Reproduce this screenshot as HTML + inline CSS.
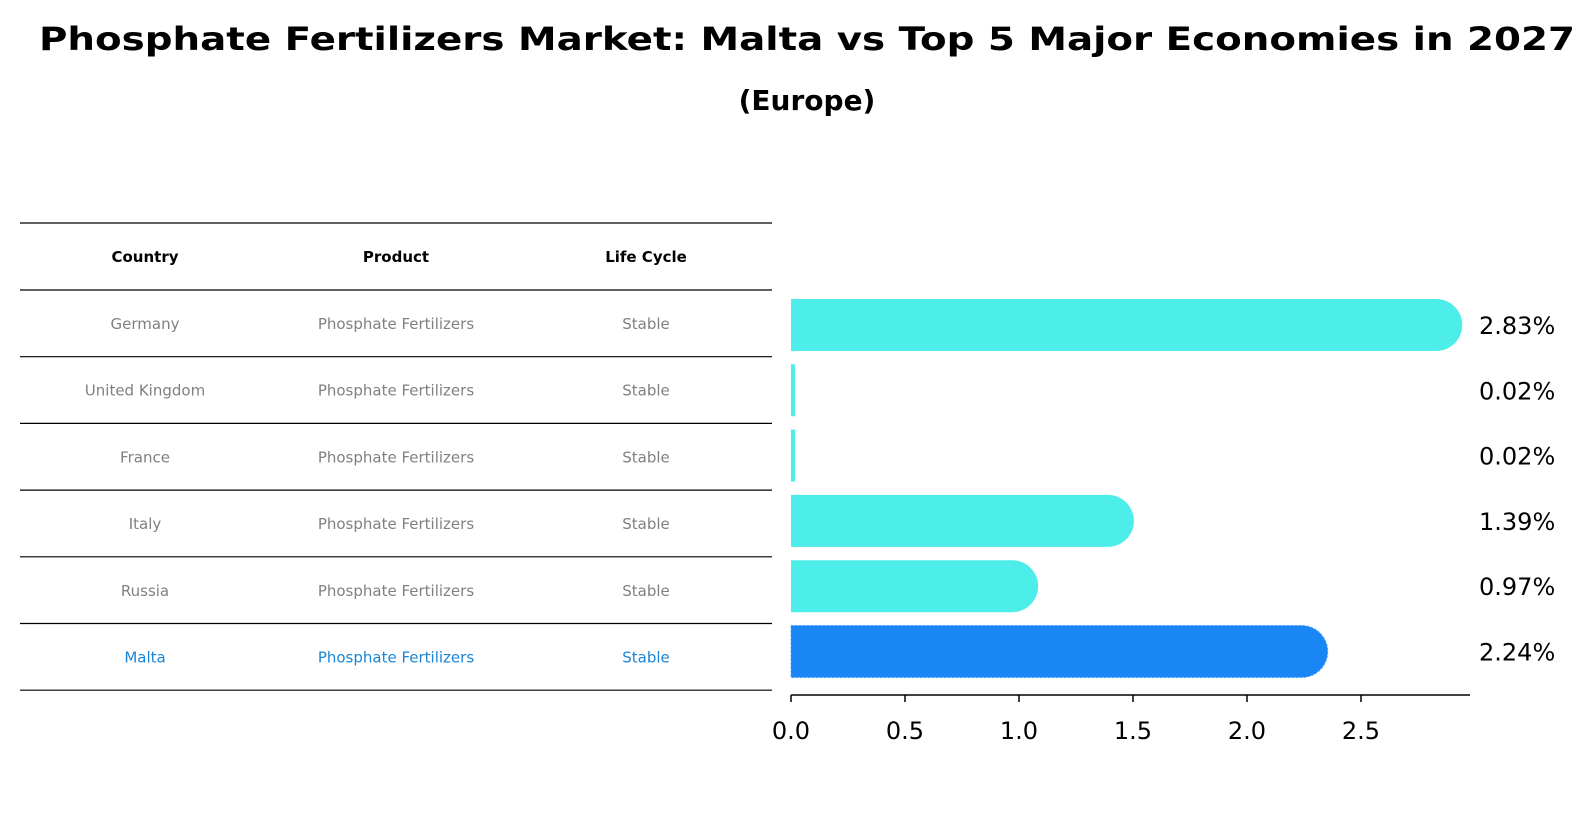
<!DOCTYPE html>
<html><head><meta charset="utf-8"><style>
html,body{margin:0;padding:0;background:#fff;}
svg{display:block;font-family:"DejaVu Sans","Liberation Sans",sans-serif;}
</style></head><body>
<svg id="chart" width="1596" height="823" viewBox="0 0 1596 823" xmlns="http://www.w3.org/2000/svg">
<text x="807" y="50" text-anchor="middle" font-size="32" font-weight="bold" textLength="1536" lengthAdjust="spacingAndGlyphs">Phosphate Fertilizers Market: Malta vs Top 5 Major Economies in 2027</text>
<text x="807" y="110" text-anchor="middle" font-size="28" font-weight="bold">(Europe)</text>
<g id="table"></g>
<g id="bars"></g>
</svg>
<script>
const countries = ["Germany","United Kingdom","France","Italy","Russia","Malta"];
const products = ["Phosphate Fertilizers","Phosphate Fertilizers","Phosphate Fertilizers","Phosphate Fertilizers","Phosphate Fertilizers","Phosphate Fertilizers"];
const lifeCycles = ["Stable","Stable","Stable","Stable","Stable","Stable"];
const values = [2.83,0.02,0.02,1.39,0.97,2.24];
const valueLabels = ["2.83%","0.02%","0.02%","1.39%","0.97%","2.24%"];
const ticks = [0,0.5,1.0,1.5,2.0,2.5];
const tickLabels = ["0.0","0.5","1.0","1.5","2.0","2.5"];
const highlight = "Malta";

const NS="http://www.w3.org/2000/svg";
function mk(tag, attrs, parent){const e=document.createElementNS(NS,tag);for(const k in attrs)e.setAttribute(k,attrs[k]);parent.appendChild(e);return e;}
const x0=791, unit=228;
function xs(v){return x0+v*unit;}
function rowY(i){return 325+i*65.3;}

const table=document.getElementById('table');
const lineYs=[223,290];
for(let i=0;i<countries.length;i++) lineYs.push(290+(i+1)*66.7);
lineYs.forEach((y,i)=>{
  const l=mk('line',{x1:20,x2:772,y1:y,y2:y,stroke:'#000','stroke-width':1.2},table);
  
  
});
const colX=[145,396,646];
["Country","Product","Life Cycle"].forEach((h,j)=>{
  const t=mk('text',{x:colX[j],y:262,'text-anchor':'middle','font-size':15,'font-weight':'bold',fill:'#000'},table);
  t.textContent=h;
  
  
});
countries.forEach((c,i)=>{
  const y=323+i*66.7+6;
  const col=c===highlight?'#1a85d6':'#808080';
  [c,products[i],lifeCycles[i]].forEach((s,j)=>{
    const t=mk('text',{x:colX[j],y:y,'text-anchor':'middle','font-size':15,fill:col},table);
    t.textContent=s;
    
    
  });
});

const bars=document.getElementById('bars');
values.forEach((v,i)=>{
  const cy=rowY(i), h=52, r=26;
  const isH=countries[i]===highlight;
  const fill=isH?'#1a85f5':'#4deee9';
  const xe=xs(v);
  const p=mk('path',{d:`M${x0},${cy-h/2} H${xe} A${r},${r} 0 0 1 ${xe},${cy+h/2} H${x0} Z`,fill:fill},bars);
  if(v<0.1){p.setAttribute('d',`M${x0},${cy-h/2} H${x0+4} V${cy+h/2} H${x0} Z`);}
  if(isH){p.setAttribute('stroke','#4aa0ff');p.setAttribute('stroke-dasharray','2,2');p.setAttribute('stroke-width','1');}
  
  
  const t=mk('text',{x:1479,y:cy+9,'font-size':24,fill:'#000'},bars);
  t.textContent=valueLabels[i];
  
  
});
const ax=mk('line',{x1:x0,x2:1470,y1:695,y2:695,stroke:'#000','stroke-width':1.5},bars);


ticks.forEach((v,i)=>{
  const tk=mk('line',{x1:xs(v),x2:xs(v),y1:695,y2:702,stroke:'#000','stroke-width':1.5},bars);
  
  
  const t=mk('text',{x:xs(v),y:739,'text-anchor':'middle','font-size':24,fill:'#000'},bars);
  t.textContent=tickLabels[i];
  
  
});
</script>
</body></html>
